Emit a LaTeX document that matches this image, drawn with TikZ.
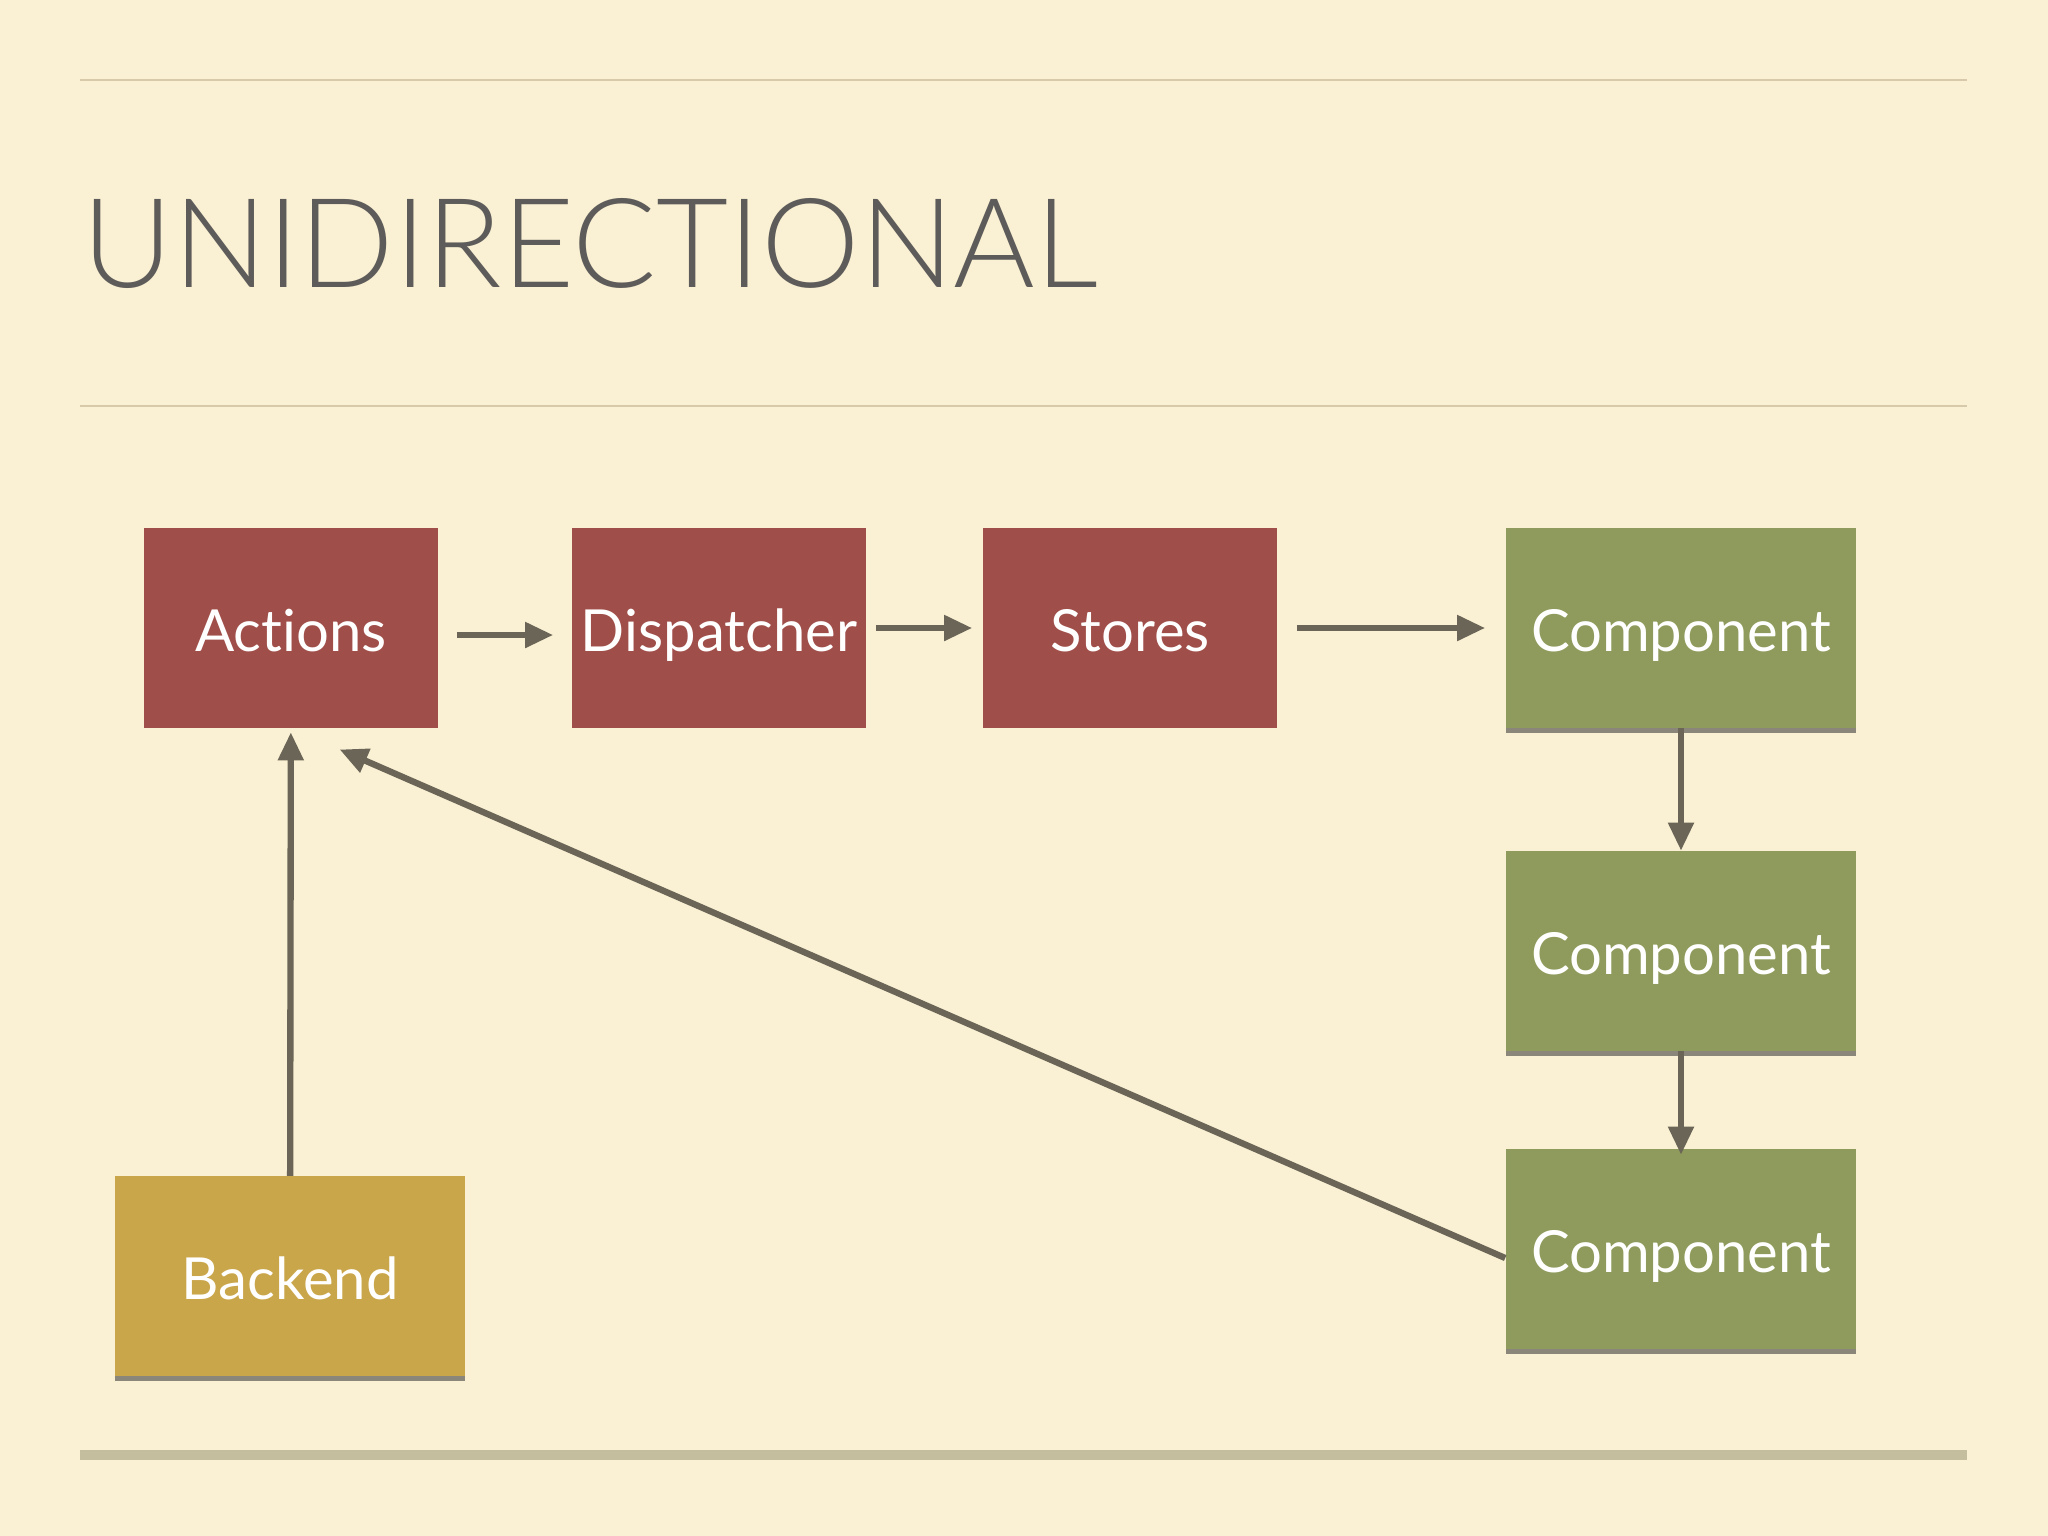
\documentclass[tikz,border=0pt]{standalone}
\usepackage{fontspec}
\setmainfont{Lato}[Ligatures = NoCommon]
\newfontfamily\titlefont{Lato-Light.ttf}
\usetikzlibrary{arrows.meta,shadows}

\definecolor{cream}{RGB}{250, 240, 211}
\definecolor{ruleline}{RGB}{214, 202, 170}
\definecolor{rulethick}{RGB}{197, 190, 158}
\definecolor{titlegray}{RGB}{94, 92, 90}
\definecolor{linkgray}{RGB}{106, 101, 86}
\definecolor{brick}{RGB}{160, 78, 73}
\definecolor{olive}{RGB}{143, 155, 92}
\definecolor{mustard}{RGB}{202, 166, 75}

\tikzset{
    box/.style = {
        rectangle,
        minimum width  = 2.94cm,
        minimum height = 1.99cm,
        inner sep      = 0pt,
        text height    = 0.46cm,
        text depth     = 0pt,
        text           = white,
        font           = \fontsize{16.5}{20}\selectfont
    },
    boxshadow/.style = {
        drop shadow = {shadow xshift = 0pt, shadow yshift = -1.5pt,
                       opacity = 0.6, fill = black!75}
    },
    redbox/.style   = {box, fill = brick},
    greenbox/.style = {box, boxshadow, fill = olive, minimum width = 3.5cm},
    goldbox/.style  = {box, boxshadow, fill = mustard, minimum width = 3.5cm},
    link/.style = {
        draw       = linkgray,
        line width = 1.8pt,
        -{Triangle[length = 8pt, width = 7pt]}
    }
}

\begin{document}
\begin{tikzpicture}[x = 0.01cm, y = -0.01cm]
    % page
    \fill[cream] (0, 0) rectangle (2048, 1536);
    \draw[ruleline, line width = 0.8pt] (80, 80) -- (1967, 80);
    \draw[ruleline, line width = 0.8pt] (80, 406) -- (1967, 406);
    \draw[rulethick, line width = 3pt] (80, 1455) -- (1967, 1455);

    \node[anchor = base west, inner sep = 0pt, text = titlegray,
          font = \titlefont\fontsize{35.4}{40}\selectfont] (title) at (82, 287) {UNIDIRECTIONAL};

    % boxes
    \node[redbox]   (actions)    at (291, 628)  {Actions};
    \node[redbox]   (dispatcher) at (719, 628)  {Dispatcher};
    \node[redbox]   (stores)     at (1130, 628) {Stores};
    \node[greenbox] (comp1)      at (1681, 628) {Component};
    \node[greenbox] (comp2)      at (1681, 951) {Component};
    \node[greenbox] (comp3)      at (1681, 1249) {Component};
    \node[goldbox]  (backend)    at (290, 1276) {Backend};

    % flow
    \draw[link, shorten <= 0.18cm, shorten >= 0.18cm]
        ([yshift = -0.07cm]actions.east) -- ([yshift = -0.07cm]dispatcher.west);
    \draw[link, shorten <= 0.09cm, shorten >= 0.10cm] (dispatcher) -- (stores);
    \draw[link, shorten <= 0.19cm, shorten >= 0.20cm] (stores) -- (comp1);
    \draw[link] (comp1) -- (comp2);
    \draw[link, shorten >= -0.06cm] (comp2) -- (comp3);
    \draw[link, shorten >= 0.04cm] (backend) -- (actions);
    \draw[link, shorten >= 0.53cm] ([yshift = -0.09cm]comp3.west) -- (actions.south);
\end{tikzpicture}
\end{document}
